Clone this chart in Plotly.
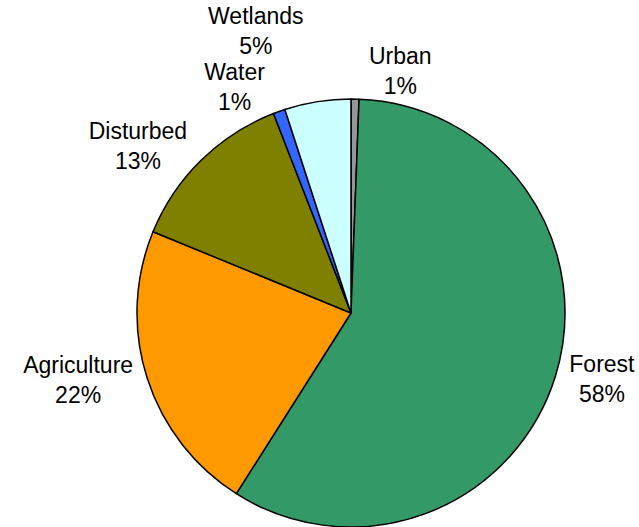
import plotly.graph_objects as go

categories = ["Urban", "Forest", "Agriculture", "Disturbed", "Water", "Wetlands"]
values = [0.6, 58.4, 22.2, 12.9, 0.9, 5.0]
colors = ["#969696", "#339966", "#FF9900", "#808000", "#3366FF", "#CCFFFF"]

fig = go.Figure(
    go.Pie(
        labels=categories,
        values=values,
        sort=False,
        direction="clockwise",
        rotation=0,
        marker=dict(colors=colors, line=dict(color="#000000", width=1.5)),
        texttemplate="%{label}<br>%{percent:.0%}",
        textposition="outside",
        textfont=dict(family="Liberation Sans, Arial, sans-serif", size=23, color="#000000"),
        hoverinfo="label+percent",
        showlegend=False,
        domain=dict(x=[136 / 639, 566 / 639], y=[0, 428 / 527]),
        automargin=False,
    )
)

fig.update_layout(
    width=639,
    height=527,
    margin=dict(l=0, r=0, t=0, b=0),
    paper_bgcolor="#FFFFFF",
    plot_bgcolor="#FFFFFF",
)

post = """
document.body.style.margin = '0';
document.querySelectorAll('path.textline').forEach(function(e){ e.style.display = 'none'; });
"""

fig.write_html("out.html", post_script=post, config={"displayModeBar": False})
